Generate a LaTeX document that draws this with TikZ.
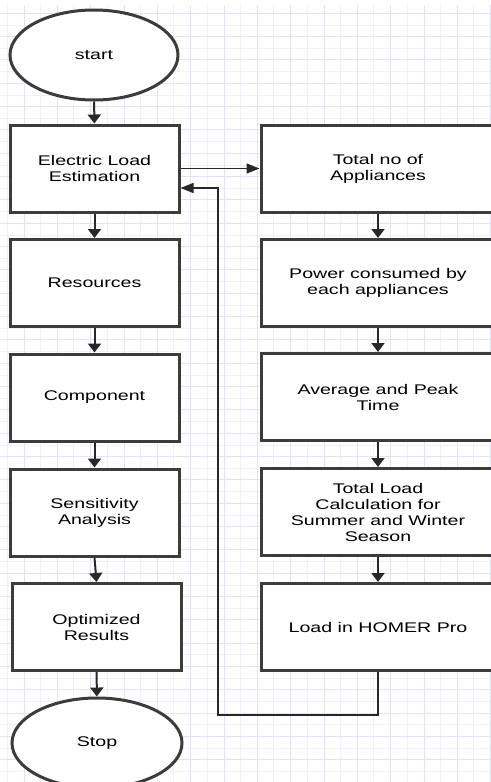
\documentclass[tikz,border=0pt]{standalone}
\usepackage{fontspec}
\setmainfont{Liberation Sans}[FakeStretch=1.4]
\usetikzlibrary{shapes.geometric,arrows.meta}
\definecolor{gridstrong}{RGB}{226,226,250}
\definecolor{gridlight}{RGB}{240,240,251}
\definecolor{boxc}{RGB}{60,60,60}
\definecolor{linec}{RGB}{40,40,40}
\tikzset{
  stepbox/.style={rectangle, draw=boxc, line width=1.5pt, fill=white,
    minimum width=84.5pt, minimum height=43.5pt, inner sep=0pt, align=center,
    font=\fontsize{7pt}{8pt}\selectfont},
  widebox/.style={stepbox, minimum width=117pt},
  term/.style={ellipse, draw=boxc, line width=1.5pt, fill=white,
    minimum width=84pt, minimum height=45pt, inner sep=0pt, align=center,
    font=\fontsize{7pt}{8pt}\selectfont},
  vconn/.style={draw=linec, line width=1pt, -{Triangle[length=4.5pt,width=6.5pt]}},
  hconn/.style={draw=linec, line width=0.7pt, -{Triangle[length=6.5pt,width=5pt]}},
}
\begin{document}
\begin{tikzpicture}[x=0.5pt,y=-0.5pt]
\useasboundingbox (0,0) rectangle (491,782);
\fill[white] (0,0) rectangle (491,782);
% grid
\foreach \j in {0,...,14} {
  \draw[gridlight, line width=0.5pt] ({7.33+\j*33.333},5) -- ({7.33+\j*33.333},782);
}
\foreach \j in {0,...,33} {
  \draw[gridlight, line width=0.5pt] (0,{25+\j*23.333}) -- (491,{25+\j*23.333});
}
\foreach \j in {0,...,14} {
  \draw[gridstrong, line width=0.5pt] ({24+\j*33.333},5) -- ({24+\j*33.333},782);
}
\foreach \j in {0,...,33} {
  \draw[gridstrong, line width=0.5pt] (0,{13.33+\j*23.333}) -- (491,{13.33+\j*23.333});
}
% left column
\node[term] (start) at (94,55) {start};
\node[stepbox] (ele) at (94.5,168.5) {Electric Load\\Estimation};
\node[stepbox] (res) at (94.5,283) {Resources};
\node[stepbox] (comp) at (94.5,397.5) {Component};
\node[stepbox] (sens) at (94.5,512.5) {Sensitivity\\Analysis};
\node[stepbox] (opt) at (96.5,627) {Optimized\\Results};
\node[term, minimum width=85pt] (stop) at (97,743) {Stop};
% right column
\node[widebox] (tot) at (378,168.5) {Total no of\\Appliances};
\node[widebox] (pow) at (378,283) {Power consumed by\\each appliances};
\node[widebox] (avg) at (378,397) {Average and Peak\\Time};
\node[widebox] (calc) at (378,512) {Total Load\\Calculation for\\Summer and Winter\\Season};
\node[widebox] (homer) at (378,627) {Load in HOMER Pro};
% connectors
\draw[vconn] (start) -- (ele);
\draw[vconn] (ele) -- (res);
\draw[vconn] (res) -- (comp);
\draw[vconn] (comp) -- (sens);
\draw[vconn] (sens.south) -- (opt.north);
\draw[vconn] (opt) -- (stop);
\draw[hconn] (ele) -- (tot);
\draw[vconn] (tot) -- (pow);
\draw[vconn] (pow) -- (avg);
\draw[vconn] (avg) -- (calc);
\draw[vconn] (calc) -- (homer);
\coordinate (fbA) at (378,715);
\coordinate (fbB) at (218,715);
\coordinate (fbC) at (218,188);
\draw[hconn] (homer.south) -- (fbA) -- (fbB) -- (fbC) -- (ele.east |- fbC);
\end{tikzpicture}
\end{document}
